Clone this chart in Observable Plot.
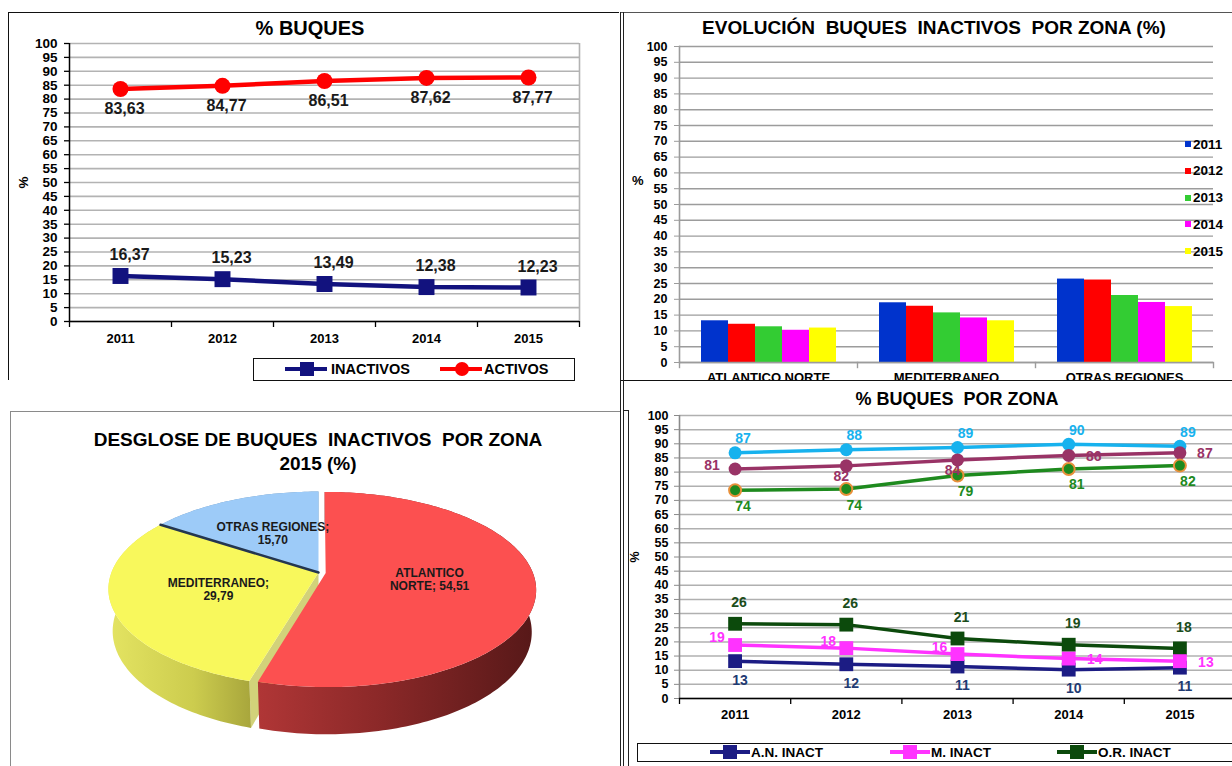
<!DOCTYPE html>
<html><head><meta charset="utf-8">
<script src="https://cdn.jsdelivr.net/npm/d3@7"></script>
<script src="https://cdn.jsdelivr.net/npm/@observablehq/plot@0.6"></script>
<style>
html,body{margin:0;padding:0;background:#fff;width:1232px;height:766px;overflow:hidden;}
body{position:relative;font-family:"Liberation Sans",Arial,Helvetica,sans-serif;font-weight:bold;color:#000;}
.t{position:absolute;white-space:pre;font-weight:bold;line-height:1;}
</style></head><body>
<script>
// ---------------- DATA ----------------
const years = [2011, 2012, 2013, 2014, 2015];
const activos = [83.63, 84.77, 86.51, 87.62, 87.77];
const inactivos = [16.37, 15.23, 13.49, 12.38, 12.23];
const zonas = ["ATLANTICO NORTE", "MEDITERRANEO", "OTRAS REGIONES"];
const inactAN = [13.2, 12.1, 11.3, 10.2, 10.9];
const inactMED = [18.9, 17.8, 15.7, 14.1, 13.2];
const inactOR = [26.4, 26.1, 21.2, 19.0, 17.7];
const actAN = [86.8, 87.9, 88.7, 89.8, 89.1];
const actMED = [81.1, 82.2, 84.3, 85.9, 86.8];
const actOR = [73.6, 74.0, 78.8, 81.1, 82.3];
const pieLabels = ["ATLANTICO\nNORTE", "MEDITERRANEO", "OTRAS REGIONES"];
const pie2015 = [54.51, 29.79, 15.70];
const yTicks = d3.range(0, 101, 5);
const halfTicks = years.map(y => y - 0.5).concat([years[years.length - 1] + 0.5]);

// ---------------- HELPERS ----------------
const FONT = '"Liberation Sans", Arial, Helvetica, sans-serif';
const svgStyle = `font-family:${FONT};font-weight:bold;font-size:13px;color:#000;background:transparent;overflow:visible;`;
const fmt2 = v => v.toFixed(2).replace(".", ",");
function place(el, left, top, extra = "") {
  const w = document.createElement("div");
  w.style.cssText = `position:absolute;left:${left}px;top:${top}px;${extra}`;
  w.appendChild(el);
  document.body.appendChild(w);
  return w;
}
function box(css, text) {
  const d = document.createElement("div");
  d.className = "t";
  d.style.cssText = css;
  if (text != null) d.textContent = text;
  document.body.appendChild(d);
  return d;
}
const series = (vals) => years.map((year, i) => ({year, v: vals[i]}));

// ---------------- PANEL 1 : % BUQUES ----------------
const p1Act = series(activos), p1Inact = series(inactivos);
const p1 = Plot.plot({
  width: 620, height: 385, marginLeft: 69, marginRight: 41, marginTop: 43, marginBottom: 64,
  style: svgStyle,
  x: {domain: [2010.5, 2015.5]}, y: {domain: [0, 100]},
  marks: [
    Plot.gridY(yTicks, {stroke: "#b3b3b3", strokeOpacity: 1, strokeWidth: 1.6}),
    Plot.ruleX([2015.5], {stroke: "#b3b3b3", strokeWidth: 1.6}),
    Plot.ruleX([2010.5], {stroke: "#000", strokeWidth: 1.5}),
    Plot.ruleY([0], {stroke: "#000", strokeWidth: 1.5}),
    Plot.axisY(yTicks, {tickSize: 5, tickPadding: 7, strokeWidth: 1.3, fontSize: 13.5, label: "%", labelAnchor: "center", labelOffset: 51, labelArrow: "none"}),
    Plot.axisX(halfTicks, {tickSize: 6, strokeWidth: 1.3, tickFormat: () => "", label: null}),
    Plot.axisX(years, {tickSize: 0, tickPadding: 12, fontSize: 13, tickFormat: d => String(d), label: null}),
    Plot.line(p1Act, {x: "year", y: "v", stroke: "#ff0000", strokeWidth: 4.5}),
    Plot.dot(p1Act, {x: "year", y: "v", r: 8, fill: "#ff0000"}),
    Plot.line(p1Inact, {x: "year", y: "v", stroke: "#12127e", strokeWidth: 4.5}),
    Plot.dot(p1Inact, {x: "year", y: "v", symbol: "square", r: 9, fill: "#12127e"}),
    Plot.text(p1Act, {x: "year", y: "v", text: d => fmt2(d.v), dy: 20, dx: 4, fontSize: 16, fill: "#1a1a1a"}),
    Plot.text(p1Inact, {x: "year", y: "v", text: d => fmt2(d.v), dy: -21, dx: 9, fontSize: 16, fill: "#1a1a1a"})
  ]
});
place(p1, 0, 0);
box("left:8px;top:12px;width:611px;height:0;border-top:1.5px solid #111;");
box("left:8px;top:12px;width:0;height:368px;border-left:1.5px solid #111;");
box(`left:310px;top:18px;font-size:20px;transform:translateX(-50%);`, "% BUQUES");
// legend
box("left:253px;top:358px;width:320px;height:21px;border:1.5px solid #111;background:#fff;");
box("left:285px;top:367px;width:42px;height:4px;background:#12127e;");
box("left:300px;top:362px;width:14px;height:14px;background:#12127e;");
box("left:331px;top:362px;font-size:14.5px;", "INACTIVOS");
box("left:440px;top:367px;width:42px;height:4px;background:#ff0000;");
box("left:455px;top:362px;width:14px;height:14px;border-radius:50%;background:#ff0000;");
box("left:484px;top:362px;font-size:14.5px;", "ACTIVOS");

// ---------------- PANEL 2 : EVOLUCIÓN (bars) ----------------
const barColors = ["#0033cc", "#ff0000", "#33cc33", "#ff00ff", "#ffff00"];
const barSeries = [inactAN, inactMED, inactOR];
const barData = zonas.flatMap((z, zi) => years.map((y, yi) => ({zona: z, year: String(y), v: barSeries[zi][yi]})));
const p2 = Plot.plot({
  width: 612, height: 390, marginLeft: 58, marginRight: 19, marginTop: 46, marginBottom: 28,
  style: svgStyle,
  fx: {domain: zonas, padding: 0, label: null, axis: null},
  x: {domain: years.map(String), paddingInner: 0, paddingOuter: 0.77, axis: null},
  y: {domain: [0, 100]},
  color: {domain: years.map(String), range: barColors},
  marks: [
    Plot.gridY(yTicks, {stroke: "#9c9c9c", strokeOpacity: 1, strokeWidth: 1.4}),
    Plot.barY(barData, {fx: "zona", x: "year", y: "v", fill: "year"}),
    Plot.ruleY([0], {stroke: "#9c9c9c", strokeWidth: 1.5}),
    Plot.frame({anchor: "left", facetAnchor: "left", stroke: "#9c9c9c", strokeWidth: 1.6}),
    Plot.frame({anchor: "left", insetTop: 316, insetBottom: -5, stroke: "#9c9c9c", strokeWidth: 1.4}),
    Plot.frame({anchor: "right", facetAnchor: "right", insetTop: 316, insetBottom: -5, stroke: "#9c9c9c", strokeWidth: 1.4}),
    Plot.axisY(yTicks, {tickSize: 5, tickPadding: 7, stroke: "#9c9c9c", fontSize: 12.5, label: null}),
    Plot.axisFx({anchor: "bottom", tickSize: 0, tickPadding: 10, fontSize: 13, label: null})
  ]
});
place(p2, 620, 0);
box("left:621px;top:12px;width:611px;height:0;border-top:1.5px solid #555;");
box("left:620px;top:12px;width:0;height:368px;border-left:1px solid #222;");
box("left:623px;top:12px;width:0;height:368px;border-left:1px solid #222;");
box(`left:934px;top:18px;font-size:19px;transform:translateX(-50%);`, "EVOLUCIÓN  BUQUES  INACTIVOS  POR ZONA (%)");
box("left:632px;top:174px;font-size:13px;", "%");
years.forEach((y, i) => {
  const cy = 144 + i * 26.8;
  box(`left:1185px;top:${cy - 3}px;width:6px;height:6px;background:${barColors[i]};`);
  box(`left:1193px;top:${cy - 6.5}px;font-size:13.5px;`, String(y));
});

// ---------------- PANEL 3 : PIE 3D ----------------
const phi = 27.2 * Math.PI / 180, cphi = Math.cos(phi), sphi = Math.sin(phi);
const PF = 1088, PR = 0.1903, PH = 0.0438, PCX = 308, PCY = 161, EXPL = 0.035;
function proj(X, Y, Z) {
  const yc = Y * cphi + Z * sphi, zc = 1 + Z * cphi - Y * sphi;
  return {x: PCX + PF * X / zc, y: PCY - PF * yc / zc};
}
function pt(theta, r, Y, off) { return proj(off[0] + r * PR * Math.sin(theta), Y, off[1] + r * PR * Math.cos(theta)); }
function arcPts(a0, a1, Y, off) {
  const n = Math.max(2, Math.ceil((a1 - a0) / 0.02));
  return d3.range(n + 1).map(i => pt(a0 + (a1 - a0) * i / n, 1, Y, off));
}
const arcs = d3.pie().sort(null).value(d => d)(pie2015);
const slices = arcs.map((a, i) => {
  const mid = (a.startAngle + a.endAngle) / 2;
  const off = i === 0 ? [EXPL * PR * Math.sin(mid), EXPL * PR * Math.cos(mid)] : [0, 0];
  return {a0: a.startAngle, a1: a.endAngle, mid, off, i};
});
const topColors = ["#fc5050", "#f8f85c", "#9dcbf8"];
const sideFills = ["url(#gradAN)", "url(#gradMED)", "#6f95bb"];
const topFace = s => [pt(s.a0, 0, 0, s.off), ...arcPts(s.a0, s.a1, 0, s.off)];
const sideWall = s => [...arcPts(s.a0, s.a1, 0, s.off), ...arcPts(s.a0, s.a1, -PH, s.off).reverse()];
const radial = (s, a) => [pt(a, 0, 0, s.off), pt(a, 1, 0, s.off), pt(a, 1, -PH, s.off), pt(a, 0, -PH, s.off)];
const poly = (pts, fill) => Plot.line(pts, {x: "x", y: "y", fill, stroke: "none", curve: "linear"});
const pieLabelData = slices.map(s => {
  const p = pt(s.mid, 0.5, 0, s.off);
  const name = pieLabels[s.i];
  return {x: p.x, y: p.y, text: name + ";" + (name.includes("\n") ? " " : "\n") + fmt2(pie2015[s.i])};
});
const p3 = Plot.plot({
  width: 607, height: 355, margin: 0,
  style: svgStyle,
  x: {domain: [0, 607], range: [0, 607], axis: null},
  y: {domain: [0, 355], range: [0, 355], axis: null},
  marks: [
    poly(sideWall(slices[2]), sideFills[2]),
    poly(radial(slices[1], slices[1].a0), "#d2d27a"),
    poly(sideWall(slices[1]), sideFills[1]),
    poly(sideWall(slices[0]), sideFills[0]),
    poly(topFace(slices[2]), topColors[2]),
    poly(topFace(slices[1]), topColors[1]),
    poly(topFace(slices[0]), topColors[0]),
    Plot.line([pt(slices[2].a0, 0, 0, [0, 0]), pt(slices[2].a0, 1, 0, [0, 0])], {x: "x", y: "y", stroke: "#243650", strokeWidth: 2.5}),
    Plot.text(pieLabelData, {x: "x", y: "y", text: "text", fontSize: 12, fill: "#1a1a1a", lineHeight: 1.05})
  ]
});
d3.select(p3).insert("defs", ":first-child").html(`
  <linearGradient id="gradAN" x1="0" x2="1" y1="0" y2="0">
    <stop offset="0" stop-color="#b03636"/><stop offset="0.45" stop-color="#8a2828"/><stop offset="1" stop-color="#561818"/>
  </linearGradient>
  <linearGradient id="gradMED" x1="0" x2="1" y1="0" y2="0">
    <stop offset="0" stop-color="#e4e462"/><stop offset="0.6" stop-color="#cccc4e"/><stop offset="1" stop-color="#a8a63c"/>
  </linearGradient>`);
place(p3, 10, 411);
box("left:10px;top:411px;width:610px;height:0;border-top:1.6px solid #8a8a8a;");
box("left:10px;top:411px;width:0;height:360px;border-left:1.6px solid #8a8a8a;");
box(`left:318px;top:428px;font-size:19px;transform:translateX(-50%);text-align:center;line-height:24px;`, "DESGLOSE DE BUQUES  INACTIVOS  POR ZONA\n2015 (%)");

// ---------------- PANEL 4 : % BUQUES POR ZONA ----------------
const sANi = series(inactAN), sMEDi = series(inactMED), sORi = series(inactOR);
const sANa = series(actAN), sMEDa = series(actMED), sORa = series(actOR);
const cANi = "#1c1c84", cMEDi = "#ff33ff", cORi = "#0c4a0c";
const cANa = "#17b2ee", cMEDa = "#993366", cORa = "#1e8a1e";
const lab = (data, fill, o) => Plot.text(data, {x: "year", y: "v", text: d => String(Math.round(d.v)), fill, fontSize: 14, ...o});
const p4 = Plot.plot({
  width: 640, height: 386, marginLeft: 59, marginRight: 25, marginTop: 35, marginBottom: 68,
  style: svgStyle,
  x: {domain: [2010.5, 2015.5]}, y: {domain: [0, 100]},
  marks: [
    Plot.gridY(yTicks, {stroke: "#b0b0b0", strokeOpacity: 1, strokeWidth: 1.5}),
    Plot.ruleX([2010.5], {stroke: "#8a8a8a", strokeWidth: 1.6}),
    Plot.ruleY([0], {stroke: "#000", strokeWidth: 1.5}),
    Plot.axisY(yTicks, {tickSize: 5, tickPadding: 6, stroke: "#8a8a8a", fontSize: 12.5, label: "%", labelAnchor: "center", labelOffset: 49, labelArrow: "none"}),
    Plot.axisX(halfTicks, {tickSize: 6, strokeWidth: 1.3, tickFormat: () => "", label: null}),
    Plot.axisX(years, {tickSize: 0, tickPadding: 11, fontSize: 13, tickFormat: d => String(d), label: null}),
    Plot.line(sORi, {x: "year", y: "v", stroke: cORi, strokeWidth: 3.5}),
    Plot.dot(sORi, {x: "year", y: "v", symbol: "square", r: 7.8, fill: cORi}),
    Plot.line(sANi, {x: "year", y: "v", stroke: cANi, strokeWidth: 3.5}),
    Plot.dot(sANi, {x: "year", y: "v", symbol: "square", r: 7.8, fill: cANi}),
    Plot.line(sMEDi, {x: "year", y: "v", stroke: cMEDi, strokeWidth: 3.5}),
    Plot.dot(sMEDi, {x: "year", y: "v", symbol: "square", r: 7.8, fill: cMEDi}),
    Plot.line(sANa, {x: "year", y: "v", stroke: cANa, strokeWidth: 3.5}),
    Plot.dot(sANa, {x: "year", y: "v", r: 6.5, fill: cANa}),
    Plot.line(sMEDa, {x: "year", y: "v", stroke: cMEDa, strokeWidth: 3.5}),
    Plot.dot(sMEDa, {x: "year", y: "v", r: 6.5, fill: cMEDa}),
    Plot.line(sORa, {x: "year", y: "v", stroke: cORa, strokeWidth: 3.5}),
    Plot.dot(sORa, {x: "year", y: "v", r: 6, fill: cORa, stroke: "#e8903a", strokeWidth: 2}),
    lab(sANi, "#1f3b73", {dy: 19, dx: 5}),
    lab(sMEDi, cMEDi, {filter: d => d.year <= 2013, dx: -18, dy: -7}),
    lab(sMEDi, cMEDi, {filter: d => d.year > 2013, dx: 26, dy: 1}),
    lab(sORi, "#1b4d1b", {dy: -21, dx: 4}),
    lab(sANa, cANa, {dy: -14, dx: 8}),
    lab(sMEDa, cMEDa, {filter: d => d.year === 2011, dx: -23, dy: -3}),
    lab(sMEDa, cMEDa, {filter: d => d.year === 2012 || d.year === 2013, dx: -5, dy: 11}),
    lab(sMEDa, cMEDa, {filter: d => d.year > 2013, dx: 25, dy: 1}),
    lab(sORa, cORa, {dy: 16, dx: 8})
  ]
});
place(p4, 620, 380, "background:#fff;width:640px;height:386px;");
box("left:620px;top:380px;width:612px;height:0;border-top:1.5px solid #111;");
box("left:620px;top:380px;width:0;height:386px;border-left:1px solid #222;");
box("left:623px;top:380px;width:0;height:386px;border-left:1px solid #222;");
box("left:623px;top:410px;width:5px;height:0;border-top:1px solid #222;");
box("left:628px;top:410px;width:0;height:356px;border-left:1px solid #222;");
box(`left:957px;top:390px;font-size:18px;transform:translateX(-50%);`, "% BUQUES  POR ZONA");
// legend
box("left:637px;top:743px;width:620px;height:17px;border:1.5px solid #111;background:#fff;");
[[cANi, 710, "A.N. INACT"], [cMEDi, 890, "M. INACT"], [cORi, 1057, "O.R. INACT"]].forEach(([c, x, t]) => {
  box(`left:${x}px;top:750px;width:40px;height:4px;background:${c};`);
  box(`left:${x + 13}px;top:745px;width:14px;height:14px;background:${c};`);
  box(`left:${x + 41}px;top:746px;font-size:13.5px;`, t);
});
</script>
</body></html>
